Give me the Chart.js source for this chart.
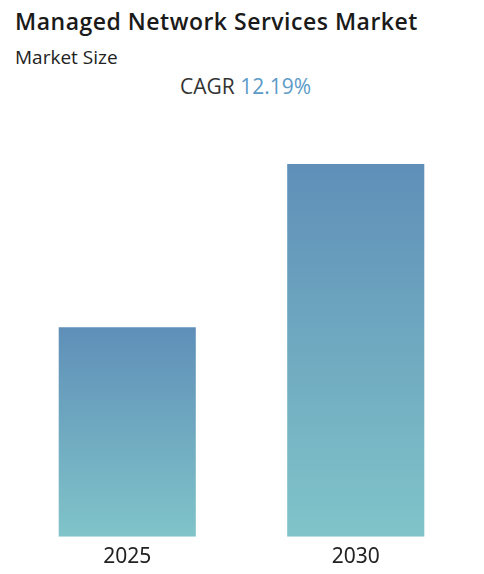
<!DOCTYPE html>
<html>
<head>
<meta charset="utf-8">
<script src="https://cdn.jsdelivr.net/npm/chart.js@4"></script>
<style>
  html, body { margin: 0; padding: 0; background: #fff; width: 484px; height: 574px; overflow: hidden; }
  .title { position: absolute; left: 15px; top: 5px; font: 600 23px "Open Sans", sans-serif; letter-spacing: 0.5px; color: #1a1a1a; white-space: nowrap; }
  .sub { position: absolute; left: 15px; top: 44px; font: 400 19px "Open Sans", sans-serif; color: #222; }
  .cagr { position: absolute; left: 0; width: 491px; top: 72px; text-align: center; font: 400 21px "Open Sans", sans-serif; color: #333; }
  .cagr span { color: #5b9bc8; }
  .wrap { position: absolute; left: 0; top: 164px; width: 484px; height: 418px; }
</style>
</head>
<body>
<div class="title">Managed Network Services Market</div>
<div class="sub">Market Size</div>
<div class="cagr">CAGR <span id="cagr"></span></div>
<div class="wrap"><canvas id="chart"></canvas></div>
<script>
// bar heights, 2025 indexed to 100
const years = ['2025', '2030'];
const marketSize = [100, 178];
const cagr = 12.19;

document.getElementById('cagr').textContent = cagr.toFixed(2) + '%';

function barGradient(ctx) {
  const chart = ctx.chart;
  const area = chart.chartArea;
  if (!area) return '#6fa9c0';
  const y = chart.scales.y;
  const top = y.getPixelForValue(ctx.raw);
  const bottom = y.getPixelForValue(0);
  const g = chart.ctx.createLinearGradient(0, top, 0, bottom);
  g.addColorStop(0, '#5f8fb8');
  g.addColorStop(1, '#80c4c9');
  return g;
}

new Chart(document.getElementById('chart'), {
  type: 'bar',
  data: {
    labels: years,
    datasets: [{
      data: marketSize,
      backgroundColor: barGradient,
      borderWidth: 0,
      barPercentage: 0.6,
      categoryPercentage: 1,
    }],
  },
  options: {
    responsive: true, maintainAspectRatio: false, animation: false,
    layout: { padding: { left: 13, right: 14, top: 0, bottom: 4 } },
    plugins: { legend: { display: false }, tooltip: { enabled: false } },
    scales: {
      y: { display: false, min: 0, max: 178 },
      x: {
        grid: { display: false, drawTicks: false },
        border: { display: false },
        ticks: { color: '#222', padding: 8, font: { family: 'Noto Sans', size: 21 } },
      },
    },
  },
});
</script>
</body>
</html>
